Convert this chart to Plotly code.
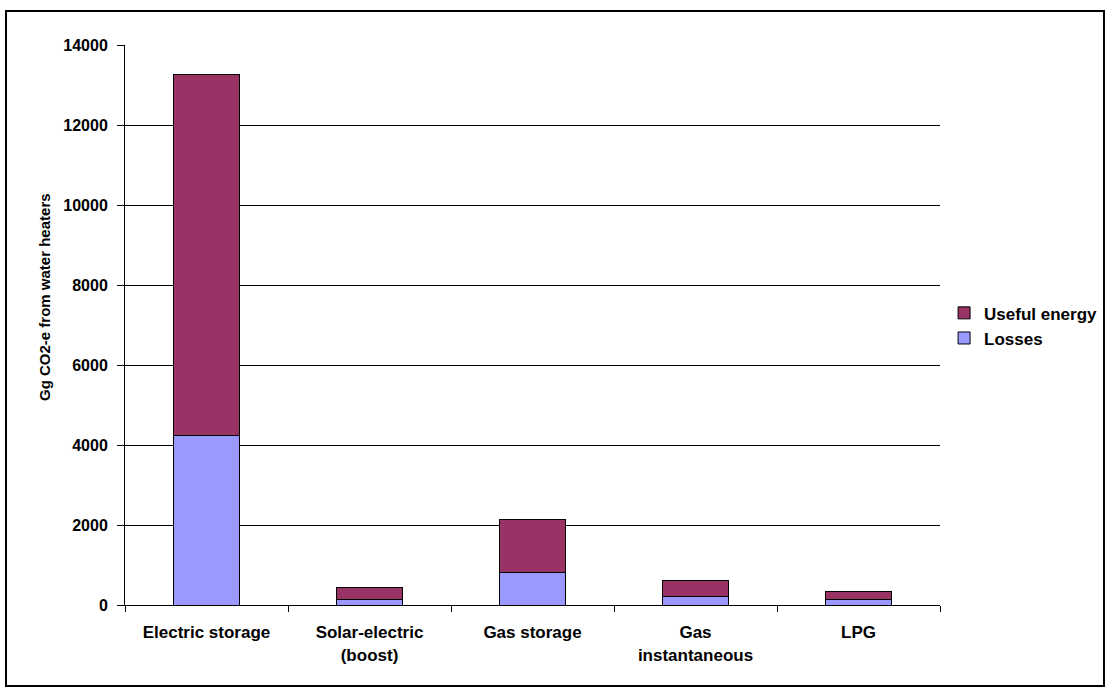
import plotly.graph_objects as go

# Greenhouse emissions from water heaters, split into losses and useful energy
categories = ["Electric storage", "Solar-electric<br>(boost)", "Gas storage",
              "Gas<br>instantaneous", "LPG"]
losses = [4230, 140, 815, 215, 133]
useful_energy = [9045, 310, 1335, 405, 200]

y_ticks = [0, 2000, 4000, 6000, 8000, 10000, 12000, 14000]

FONT = "Arial, Liberation Sans, sans-serif"

fig = go.Figure()
fig.add_trace(go.Bar(
    x=categories, y=losses, name="Losses",
    marker=dict(color="#9999FF", line=dict(color="black", width=1)),
))
fig.add_trace(go.Bar(
    x=categories, y=useful_energy, name="Useful energy",
    marker=dict(color="#993366", line=dict(color="black", width=1)),
))

fig.update_layout(
    barmode="stack",
    bargap=0.595,
    width=1107, height=689,
    margin=dict(l=125, r=167, t=45, b=84, autoexpand=False),
    paper_bgcolor="white", plot_bgcolor="white",
    font=dict(family=FONT, size=15, color="black"),
    showlegend=True,
    legend=dict(
        x=1.005, y=0.553, xanchor="left", yanchor="top",
        traceorder="reversed",
        font=dict(family=FONT, size=17, color="black", weight="bold"),
        bgcolor="rgba(0,0,0,0)",
        tracegroupgap=0,
    ),
    xaxis=dict(
        type="category",
        showline=True, linecolor="black", linewidth=1,
        ticks="outside", tickson="boundaries", ticklen=6, tickcolor="black",
        tickfont=dict(family=FONT, size=17, color="black", weight="bold"),
        ticklabelstandoff=12,
        showgrid=False,
    ),
    yaxis=dict(
        range=[0, 14000], tickvals=y_ticks, tickformat="d",
        showline=True, linecolor="black", linewidth=1,
        ticks="outside", ticklen=7, tickcolor="black",
        ticklabelstandoff=6,
        showgrid=True, gridcolor="black", gridwidth=1,
        zeroline=False,
        tickfont=dict(family=FONT, size=16, color="black", weight="bold"),
    ),
    annotations=[
        # y-axis title
        dict(text="Gg CO2-e from water heaters", textangle=-90,
             xref="paper", yref="paper", x=-0.0994, y=0.55,
             xanchor="center", yanchor="middle", showarrow=False,
             font=dict(family=FONT, size=15, color="black", weight="bold")),
    ],
    shapes=[
        # outer frame around the whole chart
        dict(type="rect", xref="paper", yref="paper",
             x0=-0.146, x1=1.2012, y0=-0.1446, y1=1.0607,
             line=dict(color="black", width=2), fillcolor="rgba(0,0,0,0)",
             layer="below"),
    ],
)

fig.write_html("out.html")
